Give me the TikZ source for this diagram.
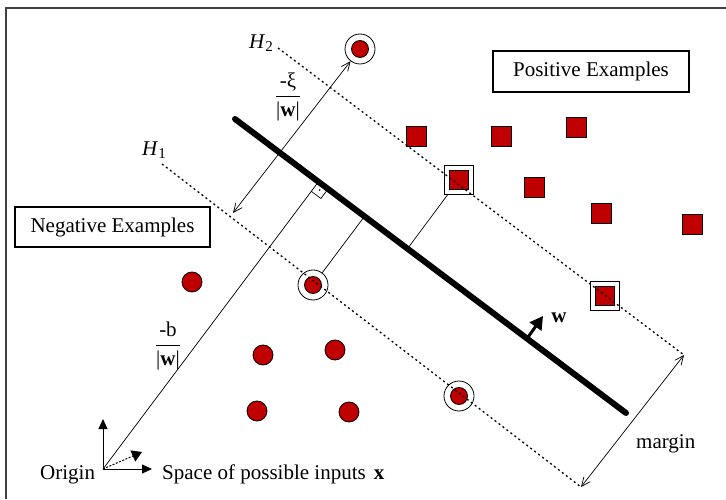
\documentclass[tikz,border=0pt]{standalone}
\usepackage{fontspec}
\setmainfont{Liberation Serif}
\usepackage{amsmath}
\usetikzlibrary{arrows.meta,calc}
\definecolor{svmred}{HTML}{C00000}
\newcommand{\fsz}{\fontsize{21}{25}\selectfont}
\newcommand{\subtwo}[1]{\raisebox{-0.35ex}{\fontsize{15}{15}\selectfont #1}}
\begin{document}
\begin{tikzpicture}[x=1pt,y=1pt,
  pt/.style={circle,draw=black,fill=svmred,line width=0.8pt,minimum size=20pt,inner sep=0pt},
  spt/.style={circle,draw=black,fill=svmred,line width=0.8pt,minimum size=17pt,inner sep=0pt},
  ring/.style={circle,draw=black,fill=white,line width=0.8pt,minimum size=30pt,inner sep=0pt},
  sq/.style={rectangle,draw=black,fill=svmred,line width=0.8pt,minimum size=20pt,inner sep=0pt},
  ssq/.style={rectangle,draw=black,fill=svmred,line width=0.8pt,minimum size=19pt,inner sep=0pt},
  sqring/.style={rectangle,draw=black,fill=white,line width=0.8pt,minimum size=29pt,inner sep=0pt},
  lbl/.style={font=\fsz,inner sep=0pt},
  exbox/.style={draw=black,line width=1.2pt,font=\fsz,inner sep=0pt},
  hline/.style={line width=1.3pt,dash pattern=on 2pt off 3pt},
  thinl/.style={line width=0.7pt},
  barb/.style={thinl,{Straight Barb[length=9pt,width=8pt]}-{Straight Barb[length=9pt,width=8pt]}},
  axisarrow/.style={line width=1pt,-{Triangle[length=10pt,width=9pt]}},
]
\useasboundingbox (0,0) rectangle (726,499);

% frame (top and left only)
\draw[line width=2pt,black!75] (726,491) -- (6,491) -- (6,0);

% example boxes
\node[exbox,minimum width=196pt,minimum height=41pt] (posbox) at (591,427.5) {Positive Examples};
\node[exbox,minimum width=195pt,minimum height=40pt] (negbox) at (112.5,272) {Negative Examples};

% key coordinates
\coordinate (HPa) at (235,380);
\coordinate (HPb) at (626,86);
\coordinate (H1a) at (162,335);
\coordinate (H1b) at (581,12);
\coordinate (H2a) at (278,451);
\coordinate (H2b) at (684,144);
\coordinate (O) at (103,30);
\coordinate (F) at (318.5,317.3);
\coordinate (FS1) at (364.6,282.8);
\coordinate (FQ1) at (407.6,250.5);
\coordinate (xilow) at (233,286);
\coordinate (wbase) at (526,159);
\coordinate (wtip) at (543,183);
\coordinate (ytip) at (103,80);
\coordinate (xtip) at (152,30);
\coordinate (dtip) at (142,47);

% negative examples
\node[pt] (c1) at (192,217) {};
\node[pt] (c2) at (263,144) {};
\node[pt] (c3) at (335,149) {};
\node[pt] (c4) at (257,88) {};
\node[pt] (c5) at (349,87) {};
\node[ring] (S1r) at (313,214) {};
\node[spt] (S1) at (313,214) {};
\node[ring] (S2r) at (459,103) {};
\node[spt] (S2) at (459,103) {};
\node[ring] (Tr) at (360,450) {};
\node[spt] (T) at (360,450) {};

% positive examples
\node[sq] (q1) at (416,363) {};
\node[sq] (q2) at (501,363) {};
\node[sq] (q3) at (576,371.5) {};
\node[sq] (q4) at (534,312) {};
\node[sq] (q5) at (601,286) {};
\node[sq] (q6) at (692,275) {};
\node[sqring] (Q1r) at (459,319.5) {};
\node[ssq] (Q1) at (459,319.5) {};
\node[sqring] (Q2r) at (605,203) {};
\node[ssq] (Q2) at (605,203) {};

% right-angle marker
\draw[thinl] (F) -- ($(F)+(9.6,-7.2)$) -- ($(F)+(2.4,-16.8)$) -- ($(F)+(-7.2,-9.6)$);
\fill ($(F)+(1.2,-8.4)$) circle (0.9pt);

% perpendiculars
\draw[thinl] (O) -- (F);
\draw[thinl] (S1r) -- (FS1);
\draw[thinl] (Q1r) -- (FQ1);

% separating hyperplane
\draw[line width=6pt,line cap=round] (HPa) -- (HPb);

% margin hyperplanes
\draw[hline] (H1a) -- (H1b);
\draw[hline] (H2a) -- (H2b);

% slack and margin arrows
\draw[barb] (xilow) -- (Tr);
\draw[barb] (H1b) -- (H2b);

% normal vector w
\draw[line width=3pt,-{Triangle[length=13pt,width=14pt]}] (wbase) -- (wtip);

% origin axes
\draw[axisarrow] (O) -- (ytip);
\draw[axisarrow] (O) -- (xtip);
\draw[line width=1pt,dash pattern=on 2pt off 1.5pt,-{Triangle[length=10pt,width=12pt]}] (O) -- (dtip);

% labels
\node[lbl] (H2lab) at (261,456) {\textit{H}\subtwo{2}};
\node[lbl] (H1lab) at (154,349) {\textit{H}\subtwo{1}};
\node[lbl] (xilab) at (288,402) {$\dfrac{\text{\fsz -ξ}}{\text{\fsz |\textbf{w}|}}$};
\node[lbl] (blab) at (168,153) {$\dfrac{\text{\fsz -b}}{\text{\fsz |\textbf{w}|}}$};
\node[lbl,anchor=base west] (origlab) at (40,20) {Origin};
\node[lbl,anchor=base west] (spacelab) at (162,20) {Space of possible inputs\hspace{8pt}\textbf{x}};
\node[lbl] (wlab) at (559,181) {\textbf{w}};
\node[lbl,anchor=base west] (marglab) at (636,51) {margin};
\end{tikzpicture}
\end{document}
